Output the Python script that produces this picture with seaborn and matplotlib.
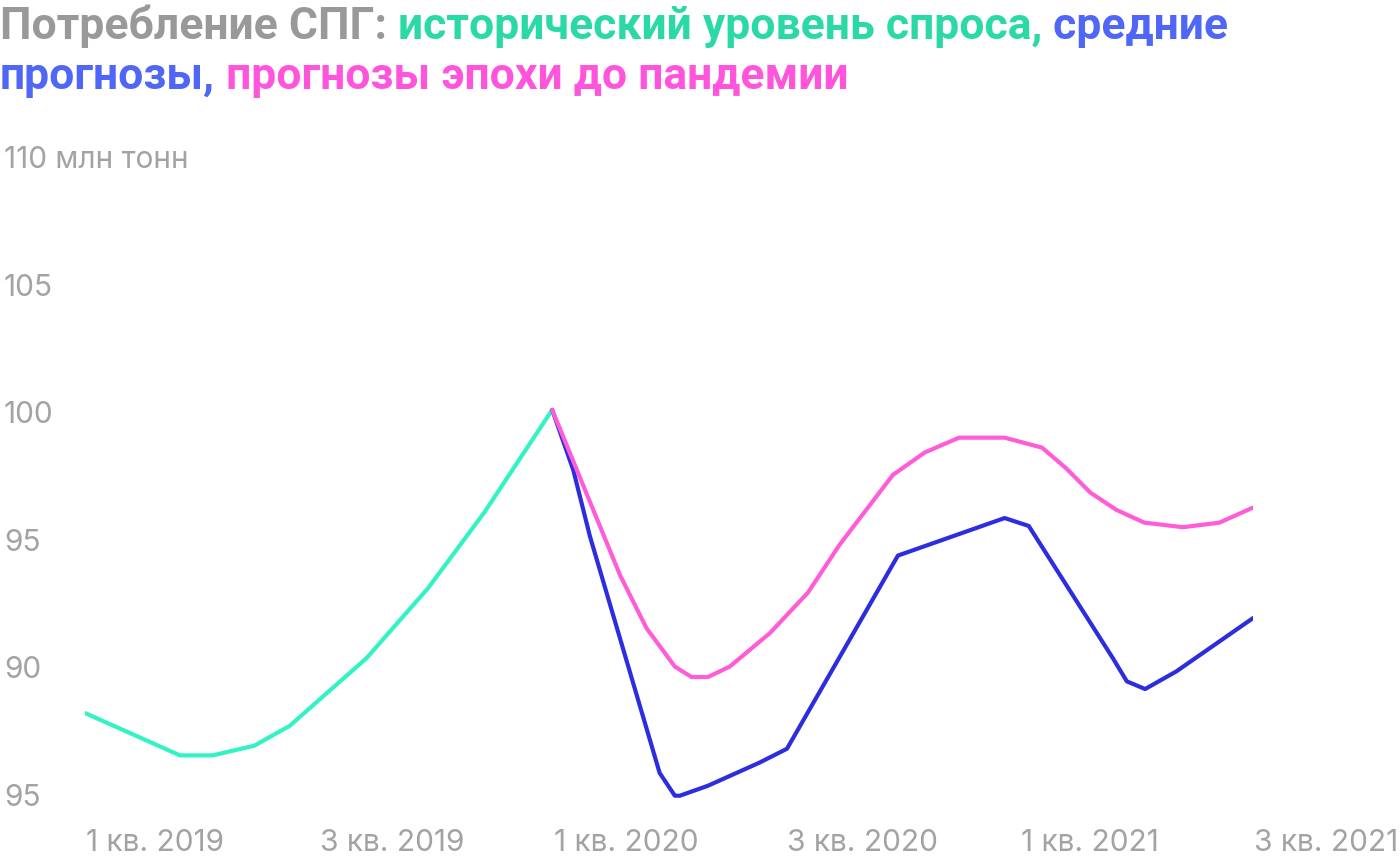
import matplotlib
matplotlib.use("Agg")
import matplotlib.pyplot as plt
import seaborn as sns
import pandas as pd

# Month offsets from January 2019
hist_x = [0, 2.44, 3.28, 4.35, 5.26, 7.23, 8.81, 10.27, 12.0]
hist_y = [88.33, 86.67, 86.67, 87.05, 87.83, 90.48, 93.22, 96.22, 100.21]

avg_x = [12.0, 12.54, 12.97, 14.76, 15.15, 15.28, 16.0, 17.33, 18.03, 20.88,
         23.62, 24.24, 26.4, 26.76, 27.23, 28.03, 30.0]
avg_y = [100.21, 97.86, 95.25, 85.98, 85.09, 85.09, 85.48, 86.39, 86.93, 94.5,
         95.97, 95.66, 90.48, 89.57, 89.27, 89.96, 92.05]

pre_x = [12.0, 13.74, 14.42, 15.15, 15.58, 16.0, 16.56, 17.59, 18.57, 19.38,
         20.75, 21.57, 22.45, 23.62, 24.58, 25.2, 25.82, 26.49, 27.21, 28.2,
         29.14, 30.0]
pre_y = [100.21, 93.74, 91.66, 90.15, 89.74, 89.74, 90.15, 91.46, 93.05, 94.92,
         97.66, 98.54, 99.12, 99.12, 98.73, 97.92, 96.97, 96.29, 95.79, 95.61,
         95.79, 96.38]

x_ticks = [0, 6, 12, 18, 24, 30]
x_labels = ["1 кв. 2019", "3 кв. 2019", "1 кв. 2020", "3 кв. 2020", "1 кв. 2021", "3 кв. 2021"]
y_ticks = [85, 90, 95, 100, 105, 110]
y_labels = ["95", "90", "95", "100", "105", "110 млн тонн"]

title_parts = [
    ("Потребление СПГ: ", "#999999"),
    ("исторический уровень спроса,", "#2bd9a7"),
    (" средние", "#4f66f7"),
]
title_parts2 = [
    ("прогнозы,", "#4f66f7"),
    (" прогнозы эпохи до пандемии", "#ff55dd"),
]

GREEN = "#33f3c5"
BLUE = "#2d2de0"
PINK = "#ff5cd8"
GRAY = "#a3a3a3"

sns.set_theme(style="white")
plt.rcParams["font.family"] = ["Inter", "DejaVu Sans"]

fig = plt.figure(figsize=(14, 8.6), dpi=100)
ax = fig.add_axes([85 / 1400, (860 - 798) / 860, 1168 / 1400, 638 / 860])

df_h = pd.DataFrame({"x": hist_x, "y": hist_y})
df_a = pd.DataFrame({"x": avg_x, "y": avg_y})
df_p = pd.DataFrame({"x": pre_x, "y": pre_y})

sns.lineplot(data=df_h, x="x", y="y", color=GREEN, lw=3.0, sort=False, estimator=None, ax=ax)
sns.lineplot(data=df_a, x="x", y="y", color=BLUE, lw=3.0, sort=False, estimator=None, ax=ax)
sns.lineplot(data=df_p, x="x", y="y", color=PINK, lw=3.0, sort=False, estimator=None, ax=ax)

ax.set_xlim(0, 30)
ax.set_ylim(85, 110)
ax.set_xlabel("")
ax.set_ylabel("")
for s in ax.spines.values():
    s.set_visible(False)
ax.grid(False)
ax.set_xticks([])
ax.set_yticks([])

# y tick labels, left aligned at figure edge
for v, lab in zip(y_ticks, y_labels):
    ax.annotate(lab, xy=(0, v), xycoords=("figure pixels", "data"),
                xytext=(4 * 0.72, 0), textcoords="offset points",
                ha="left", va="center", fontsize=21.5, color=GRAY, fontweight="normal")

# x tick labels, left aligned at tick positions
for v, lab in zip(x_ticks, x_labels):
    ax.annotate(lab, xy=(v, 0), xycoords=("data", "figure pixels"),
                xytext=(1.0, 17 * 0.72), textcoords="offset points",
                ha="left", va="center", fontsize=21.5, color=GRAY, fontweight="normal")

# multi-colour title
fig.canvas.draw()
renderer = fig.canvas.get_renderer()

def draw_line(parts, y_px):
    x_px = 0
    for txt, col in parts:
        t = fig.text(x_px / 1400, 1 - y_px / 860, txt, color=col, fontsize=32,
                     fontweight="bold", ha="left", va="baseline",
                     family=["Roboto", "DejaVu Sans"])
        bb = t.get_window_extent(renderer=renderer)
        x_px = bb.x1

draw_line(title_parts, 39)
draw_line(title_parts2, 89)

fig.savefig("out.png", dpi=100)
